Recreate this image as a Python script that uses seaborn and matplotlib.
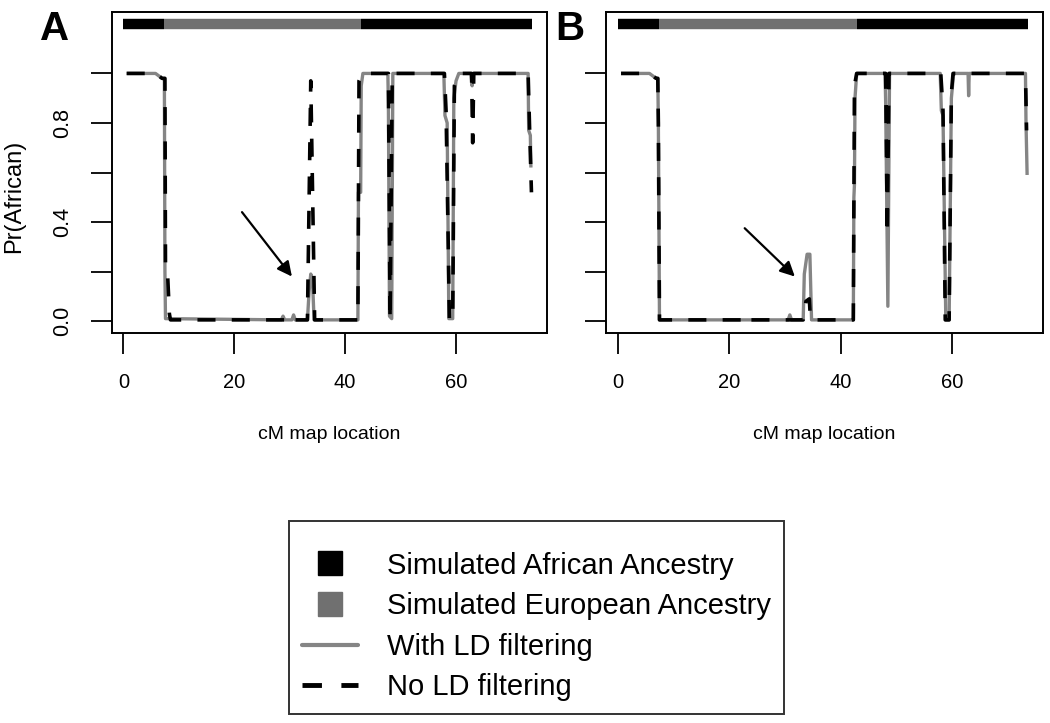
import matplotlib
matplotlib.use("Agg")
import matplotlib.pyplot as plt
from matplotlib.lines import Line2D
import pandas as pd
import seaborn as sns

# panel A, with LD filtering (gray solid)
a_ld_x = [0.6, 5.8, 7.0, 7.4, 7.5, 7.6, 28.5, 28.8, 29.1, 30.4, 30.7, 31.0, 33.2, 33.5, 33.8, 34.1, 34.4,
          42.3, 42.4, 42.8, 42.9, 43.2, 47.7, 47.8, 48.0, 48.4, 48.6, 57.8, 58.0, 58.4, 58.7, 59.4, 59.6,
          60.0, 60.5, 62.7, 62.9, 63.1, 73.0, 73.1, 73.4, 73.5]
a_ld_y = [1.0, 1.0, 0.98, 0.98, 0.2, 0.01, 0.005, 0.02, 0.005, 0.005, 0.025, 0.005, 0.005, 0.12, 0.19, 0.17, 0.005,
          0.005, 0.52, 0.52, 0.95, 1.0, 1.0, 0.88, 0.02, 0.01, 1.0, 1.0, 0.83, 0.80, 0.01, 0.01, 0.9,
          0.97, 1.0, 1.0, 0.95, 1.0, 1.0, 0.77, 0.75, 0.62]
# panel A, no LD filtering (black dashed)
a_nold_x = [0.6, 5.8, 7.0, 7.5, 7.6, 8.0, 8.3, 8.5, 30.2, 30.5, 30.8, 33.2, 33.8, 34.5, 42.3, 42.5, 43.1,
            47.8, 48.1, 48.5, 57.9, 58.2, 58.6, 58.8, 59.4, 59.7, 60.5, 62.8, 63.0, 63.2, 73.0, 73.3, 73.6]
a_nold_y = [1.0, 1.0, 0.98, 0.98, 0.22, 0.18, 0.03, 0.005, 0.005, 0.02, 0.005, 0.005, 0.97, 0.005, 0.005, 0.97, 1.0,
            1.0, 0.005, 1.0, 1.0, 0.85, 0.3, 0.005, 0.005, 0.95, 1.0, 1.0, 0.72, 1.0, 1.0, 0.75, 0.52]

# panel B
b_ld_x = [0.6, 5.7, 6.9, 7.2, 7.3, 7.5, 30.6, 30.9, 31.2, 33.3, 33.5, 34.0, 34.5, 34.8, 42.3, 42.4, 42.5,
          42.6, 42.9, 48.0, 48.1, 48.5, 48.8, 57.9, 58.1, 58.4, 58.9, 59.5, 59.9, 60.3, 62.9, 63.0, 63.1,
          73.2, 73.3, 73.5]
b_ld_y = [1.0, 1.0, 0.98, 0.98, 0.8, 0.005, 0.005, 0.025, 0.005, 0.005, 0.19, 0.27, 0.27, 0.005, 0.005, 0.5, 0.55,
          0.9, 1.0, 1.0, 0.89, 0.06, 1.0, 1.0, 0.85, 0.83, 0.005, 0.005, 0.9, 1.0, 1.0, 0.91, 1.0,
          1.0, 0.8, 0.59]
b_nold_x = [0.6, 5.7, 6.9, 7.2, 7.3, 7.5, 22.3, 22.5, 22.7, 33.3, 33.8, 34.4, 34.6, 42.3, 42.5, 42.9,
            48.1, 48.4, 48.7, 58.0, 58.4, 58.8, 59.5, 59.9, 60.2, 73.2, 73.4]
b_nold_y = [1.0, 1.0, 0.98, 0.98, 0.8, 0.005, 0.005, 0.02, 0.005, 0.005, 0.08, 0.09, 0.005, 0.005, 0.95, 1.0,
            1.0, 0.35, 1.0, 1.0, 0.85, 0.005, 0.005, 0.92, 1.0, 1.0, 0.77]

# simulated ancestry segments (same in both panels)
seg_start = [0.0, 7.4, 42.9]
seg_end = [7.4, 42.9, 73.7]
seg_anc = ["African", "European", "African"]

x_ticks = [0, 20, 40, 60]
y_ticks = [0.0, 0.2, 0.4, 0.6, 0.8, 1.0]
y_ticklabels = ["0.0", "", "0.4", "", "0.8", ""]

anc_colors = {"African": "black", "European": "#707070"}
ld_gray = "#858585"

sns.set_theme(style="white")
plt.rcParams['font.family'] = ['Liberation Sans', 'DejaVu Sans']
plt.rcParams['text.color'] = 'black'
plt.rcParams['axes.labelcolor'] = 'black'
plt.rcParams['xtick.color'] = 'black'
plt.rcParams['ytick.color'] = 'black'

fig = plt.figure(figsize=(10.5, 7.23), dpi=100)
ax_a = fig.add_axes([111.7 / 1050, 1 - 333 / 723, 435 / 1050, 321 / 723])
ax_b = fig.add_axes([606 / 1050, 1 - 333 / 723, 437 / 1050, 321 / 723])

panels = [
    (ax_a, a_ld_x, a_ld_y, a_nold_x, a_nold_y, "A", ((21.4, 0.44), (30.4, 0.18))),
    (ax_b, b_ld_x, b_ld_y, b_nold_x, b_nold_y, "B", ((22.8, 0.375), (31.8, 0.18))),
]

for ax, lx, ly, nx_, ny_, letter, arrow in panels:
    ld = pd.DataFrame({"cM": lx, "pr": ly})
    nold = pd.DataFrame({"cM": nx_, "pr": ny_})
    sns.lineplot(data=ld, x="cM", y="pr", ax=ax, sort=False, estimator=None,
                 color=ld_gray, lw=2.4, solid_capstyle="butt")
    sns.lineplot(data=nold, x="cM", y="pr", ax=ax, sort=False, estimator=None,
                 color="black", lw=2.6, linestyle=(0, (5, 4.5)), dash_capstyle="butt")

    # ancestry bar on top
    for s, e, anc in zip(seg_start, seg_end, seg_anc):
        ax.plot([s, e], [1.2, 1.2], color=anc_colors[anc], lw=7.5, solid_capstyle="butt")

    ax.annotate("", xy=arrow[1], xytext=arrow[0],
                arrowprops=dict(arrowstyle="-|>", color="black", lw=1.6,
                                mutation_scale=22, shrinkA=0, shrinkB=0))

    ax.set_xlim(-2.1, 76.35)
    ax.set_ylim(-0.048, 1.248)
    ax.set_xticks(x_ticks)
    ax.set_xticklabels([str(t) for t in x_ticks], fontsize=14.5)
    ax.set_yticks(y_ticks)
    if letter == "A":
        ax.set_yticklabels(y_ticklabels, rotation=90, va="center", fontsize=15.5)
        ax.set_ylabel("Pr(African)", fontsize=17)
        ax.yaxis.set_label_coords(-0.20, 0.425)
    else:
        ax.set_yticklabels([""] * len(y_ticks))
        ax.set_ylabel("")
    ax.set_xlabel("cM map location", fontsize=14)
    ax.xaxis.set_label_coords(0.5, -0.29)
    ax.tick_params(axis="both", direction="out", length=15, width=1.3, color="black",
                   bottom=True, left=True)
    ax.tick_params(axis="x", pad=14)
    ax.tick_params(axis="y", pad=13)
    for sp in ax.spines.values():
        sp.set_visible(True)
        sp.set_color("black")
        sp.set_linewidth(1.4)

fig.text(40 / 1050, 1 - 40 / 723, "A", fontsize=29, fontweight="bold", ha="left", va="baseline")
fig.text(555 / 1050, 1 - 40 / 723, "B", fontsize=29, fontweight="bold", ha="left", va="baseline")

handles = [
    Line2D([], [], marker="s", linestyle="none", color="black", markersize=17),
    Line2D([], [], marker="s", linestyle="none", color="#707070", markersize=17),
    Line2D([], [], color=ld_gray, lw=3),
    Line2D([], [], color="black", lw=3.5, linestyle=(0, (4, 4))),
]
labels = ["Simulated African Ancestry", "Simulated European Ancestry",
          "With LD filtering", "No LD filtering"]
leg = fig.legend(handles, labels, loc="upper left", bbox_to_anchor=(289 / 1050, 1 - 521 / 723),
                 fontsize=21, frameon=True, fancybox=False, edgecolor="black",
                 borderaxespad=0, borderpad=0.45, labelspacing=0.43,
                 handlelength=1.9, handletextpad=1.0,
                 title=" ", title_fontsize=4)
leg.get_frame().set_linewidth(1.4)

fig.savefig("out.png", dpi=100)
